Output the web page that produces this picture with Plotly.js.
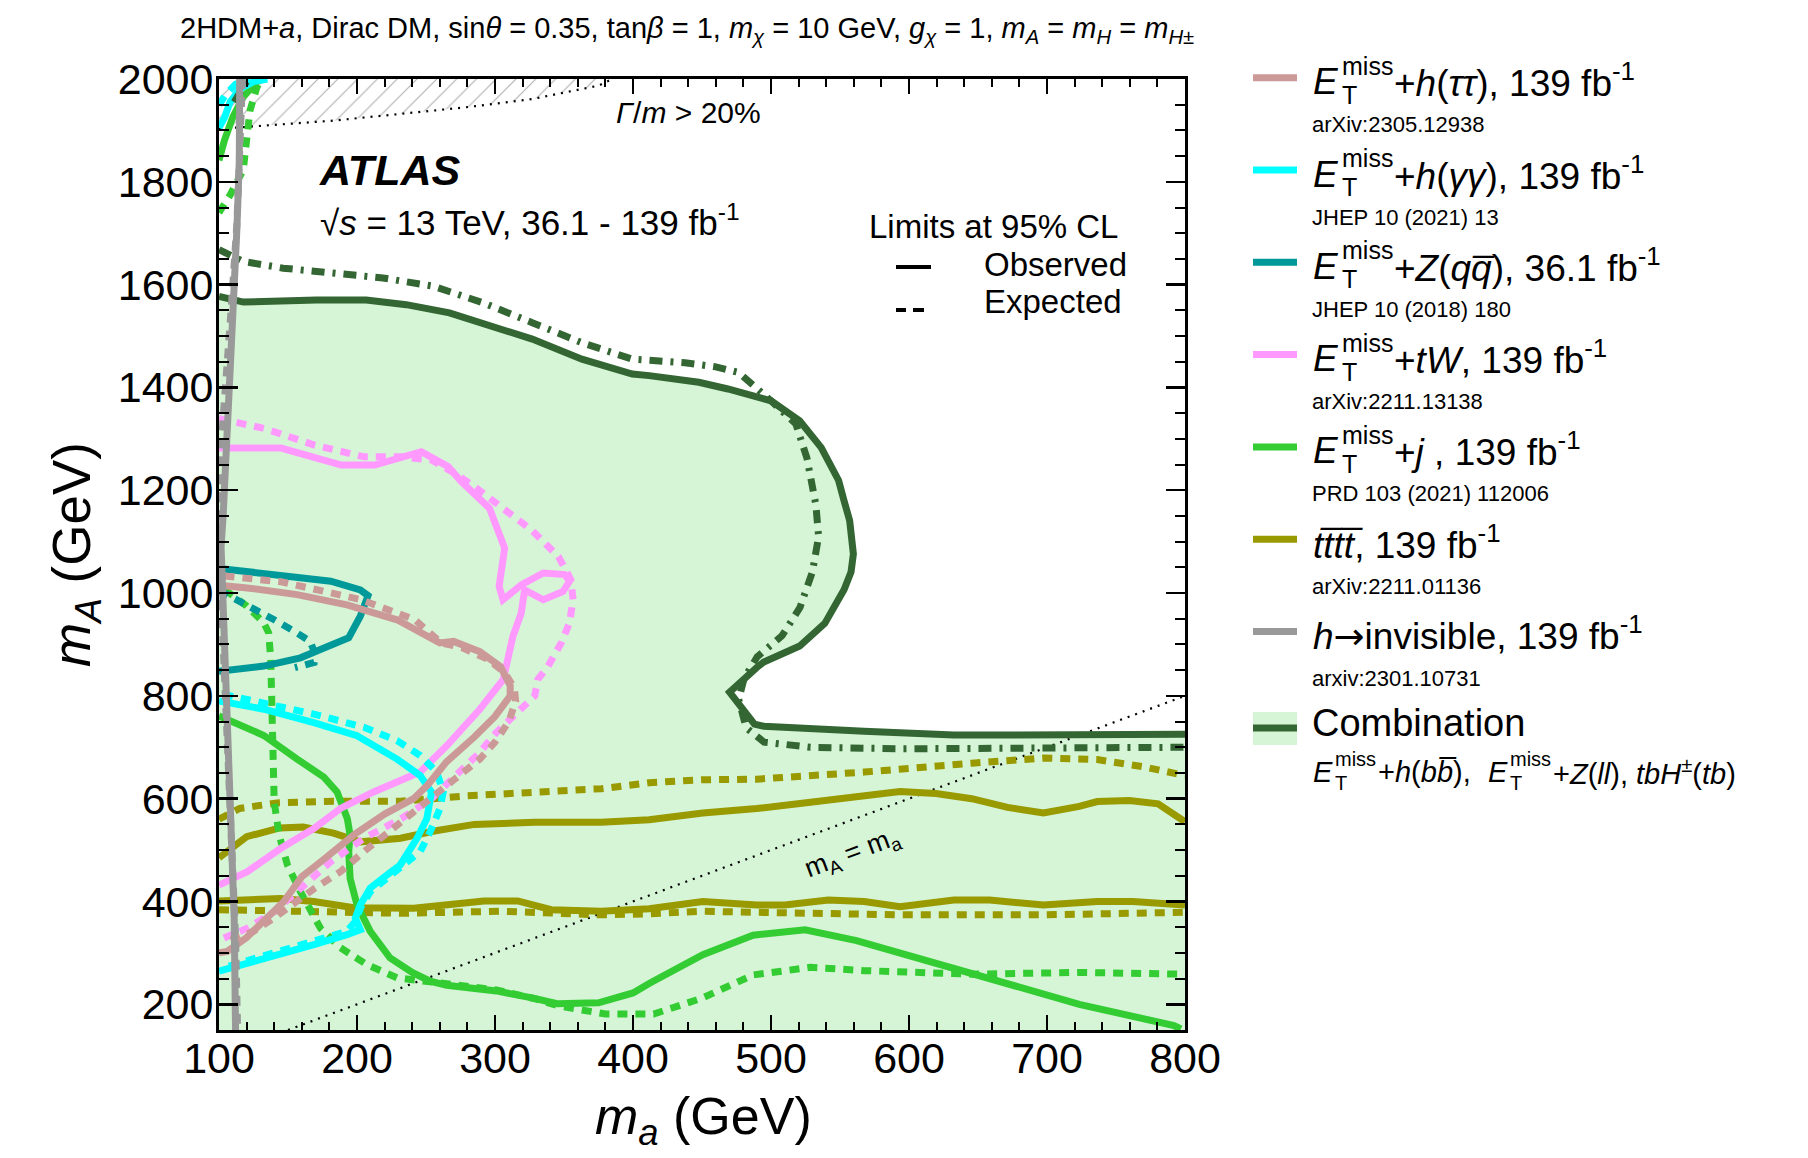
<!DOCTYPE html>
<html><head><meta charset="utf-8">
<script src="https://cdn.plot.ly/plotly-3.0.1.min.js"></script>
<style>html,body{margin:0;padding:0;background:#fff;}#chart{width:1808px;height:1158px;}</style>
</head><body><div id="chart"></div>
<script>
const X_RANGE = [100, 800];
const Y_RANGE = [150, 2000];

// E_T^miss + h(tautau)
const tautau_obs_x = [100,120.5,156.6,192.8,229,260,270,289,304,311,311,300,285,265,251,241,220,198,175,160,147,135,120,106,100];
const tautau_obs_y = [1015,1010,997,977,948,903,906,886,857,820,800,760,720,672,626,600,570,530,480,448,400,370,330,303,300];
const tautau_exp_x = [104,145,203,242,261,276,295,307,314,315,310,300,289,265,241,205,188,169,140,125,106];
const tautau_exp_y = [1033,1022,987,948,903,894,871,845,815,790,750,710,677,626,574,497,458,425,368,342,322];

// E_T^miss + h(gammagamma)
const gg_obs_x = [100,132.5,168.7,200,229,245.8,254,252.6,250.6,243.4,231.3,221.7,209.6,202.4,198.8,202.4,192.8,168.7,144.6,120.5,100];
const gg_obs_y = [790,774,748,722.5,677,645,613,580,561,522.5,471,451.6,426,393.5,368,345,335.5,316,297,277.4,264.5];
const gg_exp_x = [103,132.5,168.7,205,229,245.8,257.7,262.5,260,253,245.8,233.6,221.7,209.6,202.4,198.8,192.8,168.7,144.6,120.5,103];
const gg_exp_y = [803,787,764.5,739,713,684,652,613,580,535.5,497,471,445,419,387,361,342,322.6,303,284,271];
const gg_obs_top_x = [100,104,108,115,125,135];
const gg_obs_top_y = [1905,1925,1955,1980,1995,2000];
const gg_exp_top_x = [100,105,112,122];
const gg_exp_top_y = [1950,1970,1990,2000];

// E_T^miss + Z(qq)
const zqq_obs_x = [100,132.5,181,202.4,208,202.4,194,173.5,159,132.5,115.7,100];
const zqq_obs_y = [1048,1039,1023,1006,995,955,913,890,874,858,852,848];
const zqq_exp_x = [100,115,128,140,155,166,170,169,155];
const zqq_exp_y = [1005,985,964,948,925,906,880,865,855];

// E_T^miss + tW
const tw_obs_x = [100,145,188.6,212.8,246.6,266,275.6,296,307,303,305.8,319,335,350.5,354,349.3,335,321.5,319,313,306,289,265,245.8,212,188,168.7,144.6,120.5,100];
const tw_obs_y = [1282,1282,1249,1249,1275,1246,1217,1165,1087.5,1013,987,1016,1039,1036,1023,1003,987,1006,961,916,832,774,703,652,613,581,542,503,458,432];
const tw_exp_x = [100,104,133,169,205,232,254,271,285,304.6,326.4,346,355,356.6,354,348,338.5,331,328.8,313.5,301,289,270,254,232,205,181,157,140,120.5,103.6];
const tw_exp_y = [1340,1337,1320,1288,1265,1265,1259,1233,1207,1168,1123,1071,1026,987,942,903,858,832,800,761,729,690,639,600,561,523,477.5,419,380,348,329];

// E_T^miss + j
const j_obs_x = [100,132.5,156.6,176,185.6,193,195,194,195,200,209.6,224,240,253,265,301,327.7,345,375,400,412,450.6,487,524.7,562,619.5,671.4,723.4,792,797];
const j_obs_y = [761,723,677,642,613,561,529,497,445,393.5,342,290,262,245,237,226,212,201,203,222,241,296.6,334.5,345,324,279,241,200,158.6,152];
const j_exp_x = [104,120,132.5,136,137.5,138,138.7,140,143.6,149.6,159,173.5,188,207,229,250,280,301,330,345.7,380,415,450,487,528.6,567.5,645.5,723.4,800];
const j_exp_y = [1007,975,942,922.6,871,787,690,593.5,529,471,419,348,310,277.4,251.6,244,236,228,210,197,181,181,212,257,272,265.5,258.6,262,258.6];
const j_obs_top_x = [100,104,110,117.6,127,132];
const j_obs_top_y = [1842,1881,1926,1965,1994,2000];
const j_exp_top_x = [100,103,108,113,117.6,120,122.5,127,130];
const j_exp_top_y = [1740,1752,1774,1800,1823,1881,1939,1980,2000];

// tttt (two bands)
const tttt_up_obs_x = [100,120,144,161,183,202.5,231.6,256,285,328.6,377,411.7,450.6,489.6,528.6,593.5,619.5,645.5,671.4,697.4,723.4,736.4,759.7,780.5,800];
const tttt_up_obs_y = [485,526,543,545,533,516,523,537,550,554,554,559,572,580.7,593,613.8,610,600,583,572.4,585,594.5,596.6,590,555];
const tttt_up_exp_x = [100,115,142,183,231.6,280,328.6,377,411.7,450,489.6,567.5,645.5,697.4,736.4,770,800];
const tttt_up_exp_y = [560,581,591.7,595,595,605.6,612.5,619.4,631,636.7,638,651.7,669,679,676,662,645];
const tttt_lo_obs_x = [100,144.6,168.7,197.7,241,265,292,316.5,340.7,377,411.7,450.6,489.6,510,541.5,567.5,593.5,632.5,658.5,697.4,736.4,762.3,800];
const tttt_lo_obs_y = [401,406,400,388,387,393,401,401,384,381,386,400,393,393,403,400,390,403,403,393,400,400,393];
const tttt_lo_exp_x = [100,159,231.6,304,353,377,411.7,450,489.6,593.5,697.4,800];
const tttt_lo_exp_y = [384,381,377,381,377,374,376,381,379,374,374,379];

// h -> invisible
const hinv_obs_x = [115,114.7,113,110,108,105.5,103,101.5,102.5,104,106,108.5,111,112];
const hinv_obs_y = [2000,1840,1710,1520,1390,1260,1150,1090,1000,900,755,561,368,150];
const hinv_exp_x = [117,115.5,113,109,105.5,102.5,100.5,100,100.5,103,106,109,112,113.5];
const hinv_exp_y = [2000,1850,1720,1560,1440,1340,1250,1150,1050,900,720,520,330,150];

// Combination
const comb_obs_x = [100,117.6,170.6,206.7,235.7,267,327,363,399.5,411.7,447.7,468.8,500,520.8,536.4,549,553,557,559.7,558,553,539,520.8,494.8,489.6,470,488,494.8,567.5,632.5,671,800];
const comb_obs_y = [1577,1566,1570,1570,1561,1545,1494,1455,1426,1423,1410,1397,1374,1335,1283,1219,1179,1141,1076,1041,1007,941,897,866,855,807,745,741,731,724,724,725.5];
const comb_exp_x = [100,117.6,146.5,182.7,218.8,255,291,327,363,399.5,437.7,460,476.6,500,518,526,532.5,534.5,532.5,530,521,508,490,480.5,476.6,482,495,528.6,593.5,671,800];
const comb_exp_y = [1668,1645,1632,1623,1613,1597,1565,1526,1487,1455,1448,1440,1429,1374,1329,1263,1172,1110,1075,1041,972,917,876,834,793,738,710,700,697,697,700];
const comb_exp_top_x = [111,115,120];
const comb_exp_top_y = [1955,1975,1995];

// Gamma/m > 20% boundary and m_A = m_a diagonal
const width_x = [100,134.5,182.6,231,279,327,375,385];
const width_y = [1903,1910,1919,1932,1945,1961,1987,2000];
const diag_x = [150, 800];
const diag_y = [150, 800];

// Legend text
const legend_rest = [
  '+<i>h</i>(<i>ττ</i>), 139 fb<sup>-1</sup>',
  '+<i>h</i>(<i>γγ</i>), 139 fb<sup>-1</sup>',
  '+<i>Z</i>(<i>qq\u0305</i>), 36.1 fb<sup>-1</sup>',
  '+<i>tW</i>, 139 fb<sup>-1</sup>',
  '+<i>j</i> , 139 fb<sup>-1</sup>'
];
const legend_refs = ['arXiv:2305.12938','JHEP 10 (2021) 13','JHEP 10 (2018) 180','arXiv:2211.13138','PRD 103 (2021) 112006','arXiv:2211.01136','arxiv:2301.10731'];

const C = {tt:'#cc9999', gg:'#00ffff', zqq:'#009999', tw:'#ff99ff', j:'#33cc33', t4:'#999900', hinv:'#999999', comb:'#336633', fill:'#d6f5d6'};
const legend_colors = [C.tt, C.gg, C.zqq, C.tw, C.j, C.t4, C.hinv];

const W = 7, DASH = '10px,8px';
function ln(x, y, color, width, dash) {
  return {type:'scatter', mode:'lines', x:x, y:y, line:{color:color, width:width, dash:dash||'solid'}, hoverinfo:'skip', showlegend:false};
}

const traces = [];
traces.push({type:'scatter', mode:'lines', x: comb_obs_x.concat([X_RANGE[1], X_RANGE[0]]), y: comb_obs_y.concat([Y_RANGE[0], Y_RANGE[0]]),
  fill:'toself', fillcolor:C.fill, line:{width:0, color:C.fill}, hoverinfo:'skip', showlegend:false});
traces.push({type:'scatter', mode:'lines', x: width_x.concat([X_RANGE[0]]), y: width_y.concat([Y_RANGE[1]]),
  fill:'toself', fillcolor:'rgba(0,0,0,0)', fillpattern:{shape:'/', fgcolor:'#b0b0b0', bgcolor:'rgba(0,0,0,0)', size:14, solidity:0.08},
  line:{width:0, color:'rgba(0,0,0,0)'}, hoverinfo:'skip', showlegend:false});
traces.push(ln(width_x, width_y, 'black', 2.2, '2px,6px'));
traces.push(ln(diag_x, diag_y, 'black', 2.2, '2px,6px'));

traces.push(ln(tttt_up_exp_x, tttt_up_exp_y, C.t4, W, DASH));
traces.push(ln(tttt_lo_exp_x, tttt_lo_exp_y, C.t4, W, DASH));
traces.push(ln(tttt_up_obs_x, tttt_up_obs_y, C.t4, W));
traces.push(ln(tttt_lo_obs_x, tttt_lo_obs_y, C.t4, W));
traces.push(ln(j_exp_x, j_exp_y, C.j, W, DASH));
traces.push(ln(j_exp_top_x, j_exp_top_y, C.j, W, DASH));
traces.push(ln(j_obs_x, j_obs_y, C.j, W));
traces.push(ln(j_obs_top_x, j_obs_top_y, C.j, W));
traces.push(ln(tw_exp_x, tw_exp_y, C.tw, W, DASH));
traces.push(ln(tw_obs_x, tw_obs_y, C.tw, W));
traces.push(ln(zqq_exp_x, zqq_exp_y, C.zqq, W, DASH));
traces.push(ln(zqq_obs_x, zqq_obs_y, C.zqq, W));
traces.push(ln(gg_exp_x, gg_exp_y, C.gg, W, DASH));
traces.push(ln(gg_exp_top_x, gg_exp_top_y, C.gg, W, DASH));
traces.push(ln(gg_obs_x, gg_obs_y, C.gg, W));
traces.push(ln(gg_obs_top_x, gg_obs_top_y, C.gg, W));
traces.push(ln(tautau_exp_x, tautau_exp_y, C.tt, W, DASH));
traces.push(ln(tautau_obs_x, tautau_obs_y, C.tt, W));
traces.push(ln(comb_exp_x, comb_exp_y, C.comb, W, '13px,8px,3px,8px'));
traces.push(ln(comb_exp_top_x, comb_exp_top_y, C.comb, W, '13px,8px,3px,8px'));
traces.push(ln(comb_obs_x, comb_obs_y, C.comb, W));
traces.push(ln(hinv_exp_x, hinv_exp_y, C.hinv, W, DASH));
traces.push(ln(hinv_obs_x, hinv_obs_y, C.hinv, W));

// pixel -> paper helpers (plot area: x 219..1185, y 79..1030)
const L = 219, PW = 966, B = 1030, PH = 951;
const P = X => (X - L) / PW;
const Q = Y => (B - Y) / PH;
const FONT = 'Liberation Sans, Arial, Helvetica, sans-serif';
function ann(X, Y, text, size, opts) {
  return Object.assign({xref:'paper', yref:'paper', x:P(X), y:Q(Y), text:text, showarrow:false,
    xanchor:'left', yanchor:'middle', font:{family:FONT, size:size, color:'black'}}, opts||{});
}
const ARROW = '<span style="font-family:DejaVu Sans">→</span>';

const annotations = [];
const shapes = [];
annotations.push(ann(687, 30, '2HDM+<i>a</i>, Dirac DM, sin<i>θ</i> = 0.35, tan<i>β</i> = 1, <i>m</i><sub><i>χ</i></sub> = 10 GeV, <i>g</i><sub><i>χ</i></sub> = 1, <i>m</i><sub><i>A</i></sub> = <i>m</i><sub><i>H</i></sub> = <i>m</i><sub><i>H</i>±</sub>', 29, {xanchor:'center'}));
annotations.push(ann(317, 170, '<b><i>ATLAS</i></b>', 43));
annotations.push(ann(318, 220, '√<i>s</i> = 13 TeV, 36.1 - 139 fb<sup>-1</sup>', 35));
annotations.push(ann(688, 112, '<i>Γ</i>/<i>m</i> > 20%', 30, {xanchor:'center'}));
annotations.push({xref:'x', yref:'y', x:559, y:493, text:'m<sub>A</sub> = m<sub>a</sub>', showarrow:false, textangle:-20.4,
  font:{family:FONT, size:27, color:'black'}});
// Axis titles
annotations.push(ann(703, 1120, '<i>m</i><sub><i>a</i></sub> (GeV)', 52, {xanchor:'center'}));
annotations.push(ann(75, 555, '<i>m</i><sub><i>A</i></sub> (GeV)', 53, {xanchor:'center', textangle:-90}));
// Limits legend
annotations.push(ann(867, 226, 'Limits at 95% CL', 33));
annotations.push(ann(982, 264, 'Observed', 33));
annotations.push(ann(982, 301, 'Expected', 33));
shapes.push({type:'line', xref:'paper', yref:'paper', x0:P(896), x1:P(931), y0:Q(267), y1:Q(267), line:{color:'black', width:4}});
shapes.push({type:'line', xref:'paper', yref:'paper', x0:P(896), x1:P(906), y0:Q(310), y1:Q(310), line:{color:'black', width:4}});
shapes.push({type:'line', xref:'paper', yref:'paper', x0:P(913), x1:P(924), y0:Q(310), y1:Q(310), line:{color:'black', width:4}});

// Right legend
const ROW0 = 80.7, DROW = 92.3;
for (let i = 0; i < 7; i++) {
  const Y = ROW0 + DROW * i;
  shapes.push({type:'line', xref:'paper', yref:'paper', x0:P(1253), x1:P(1297), y0:Q(Y-3), y1:Q(Y-3), line:{color:legend_colors[i], width:7}});
  if (i < 5) {
    annotations.push(ann(1311, Y+1, '<i>E</i>', 37));
    annotations.push(ann(1340, Y-15, 'miss', 25));
    annotations.push(ann(1340, Y+14, 'T', 25));
    annotations.push(ann(1392, Y, legend_rest[i], 37));
  } else if (i === 5) {
    annotations.push(ann(1311, Y, '<i>tt\u0305tt\u0305</i>, 139 fb<sup>-1</sup>', 37));
  } else {
    annotations.push(ann(1311, Y, '<i>h</i>' + ARROW + 'invisible, 139 fb<sup>-1</sup>', 37));
  }
  annotations.push(ann(1310, Y+44, legend_refs[i], 22));
}
// Combination entry
shapes.push({type:'rect', xref:'paper', yref:'paper', x0:P(1253), x1:P(1297), y0:Q(745), y1:Q(712), fillcolor:C.fill, line:{width:0}});
shapes.push({type:'line', xref:'paper', yref:'paper', x0:P(1253), x1:P(1297), y0:Q(728), y1:Q(728), line:{color:C.comb, width:7}});
annotations.push(ann(1310, 723, 'Combination', 38));
annotations.push(ann(1311, 772, '<i>E</i>', 29));
annotations.push(ann(1333, 759, 'miss', 20));
annotations.push(ann(1333, 783, 'T', 20));
annotations.push(ann(1376, 772, '+<i>h</i>(<i>bb\u0305</i>),', 29));
annotations.push(ann(1486, 772, '<i>E</i>', 29));
annotations.push(ann(1508, 759, 'miss', 20));
annotations.push(ann(1508, 783, 'T', 20));
annotations.push(ann(1551, 772, '+<i>Z</i>(<i>ll</i>), <i>tbH</i><sup>±</sup>(<i>tb</i>)', 29));

const axisCommon = {showgrid:false, zeroline:false, showline:true, linecolor:'black', linewidth:3, mirror:'ticks',
  ticks:'inside', tickcolor:'black', tickwidth:2.5, tickfont:{family:FONT, size:43, color:'black'}};
const layout = {
  width:1808, height:1158,
  margin:{l:219, r:623, t:79, b:128, pad:0},
  paper_bgcolor:'white', plot_bgcolor:'white',
  showlegend:false,
  font:{family:FONT, color:'black'},
  xaxis:Object.assign({}, axisCommon, {range:X_RANGE, tick0:0, dtick:100, ticklen:15, ticklabelstandoff:-12,
    minor:{ticks:'inside', dtick:20, ticklen:8, tickwidth:2, tickcolor:'black', showgrid:false}}),
  yaxis:Object.assign({}, axisCommon, {range:Y_RANGE, tick0:0, dtick:200, ticklen:19, ticklabelstandoff:-6,
    minor:{ticks:'inside', dtick:50, ticklen:10, tickwidth:2, tickcolor:'black', showgrid:false}}),
  shapes:shapes,
  annotations:annotations
};
Plotly.newPlot('chart', traces, layout, {staticPlot:true, displayModeBar:false});
</script></body></html>
